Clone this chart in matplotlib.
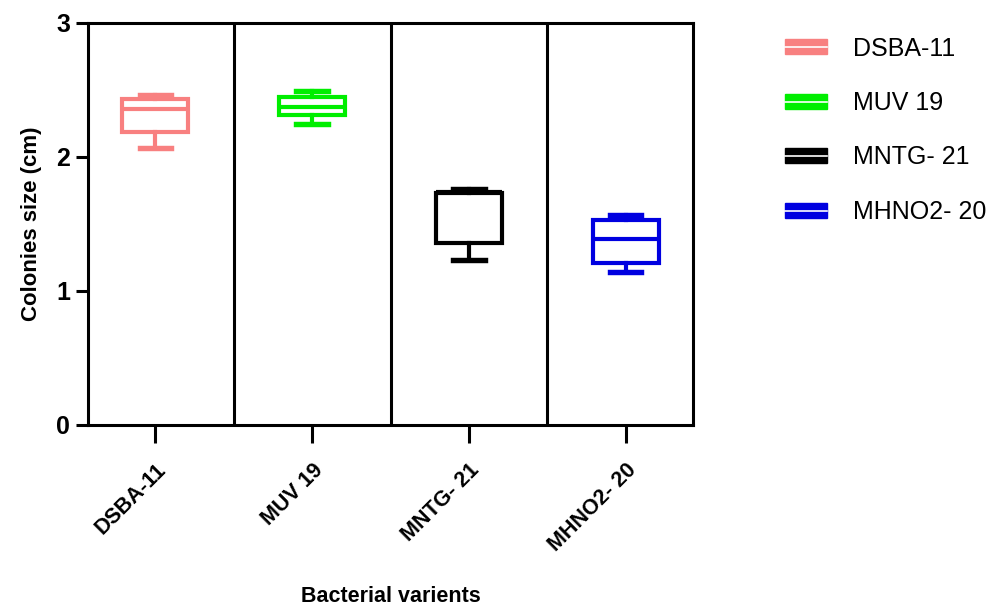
import matplotlib.pyplot as plt
from matplotlib.patches import Patch
from matplotlib.lines import Line2D
from matplotlib.legend_handler import HandlerTuple

# values
variants = ['DSBA-11', 'MUV 19', 'MNTG- 21', 'MHNO2- 20']
colors = ['#f88080', '#00ee00', '#000000', '#0000e0']
whisk_low = [2.07, 2.25, 1.23, 1.14]
q1 = [2.19, 2.31, 1.36, 1.21]
medians = [2.36, 2.37, 1.74, 1.39]
q3 = [2.43, 2.45, 1.73, 1.53]
whisk_high = [2.46, 2.49, 1.76, 1.57]

plt.rcParams['font.family'] = ['Liberation Sans', 'DejaVu Sans']

fig = plt.figure(figsize=(10.07, 6.08), dpi=100)
ax = fig.add_axes([88 / 1007, 1 - 425 / 608, (693 - 88) / 1007, (425 - 23) / 608])

lw = 3.0
for i in range(len(variants)):
    stats = [{
        'whislo': whisk_low[i], 'q1': q1[i], 'med': medians[i],
        'q3': q3[i], 'whishi': whisk_high[i], 'fliers': [],
    }]
    c = colors[i]
    ax.bxp(stats, positions=[i], widths=0.42, showfliers=False,
           patch_artist=True,
           boxprops=dict(facecolor='white', edgecolor=c, linewidth=lw),
           medianprops=dict(color=c, linewidth=lw),
           whiskerprops=dict(color=c, linewidth=lw),
           capprops=dict(color=c, linewidth=lw * 1.3),
           capwidths=0.2)

# separators between groups
for x in [0.5, 1.5, 2.5]:
    ax.axvline(x, color='black', linewidth=2.2)

ax.set_xlim(-0.43, 3.43)
ax.set_ylim(0, 3)
ax.set_yticks([0, 1, 2, 3])
ax.set_xticks(range(len(variants)))
ax.set_xticklabels(variants, rotation=45, ha='right', rotation_mode='anchor',
                   fontsize=15.5, fontweight='bold')
for lab in ax.get_yticklabels():
    lab.set_fontsize(18)
    lab.set_fontweight('bold')

for s in ax.spines.values():
    s.set_linewidth(2.2)
ax.tick_params(axis='y', length=9, width=2.2, pad=4)
ax.tick_params(axis='x', length=13, width=2.2, pad=12)

ax.set_ylabel('Colonies size (cm)', fontsize=16, fontweight='bold', labelpad=10)
ax.set_xlabel('Bacterial varients', fontsize=15.5, fontweight='bold', labelpad=22)

# legend: box symbol with a white line through it
handles = [(Patch(facecolor=c, edgecolor=c),
            Line2D([], [], color='white', linewidth=1.2)) for c in colors]
fig.legend(handles, variants, handler_map={tuple: HandlerTuple(ndivide=1)},
           loc='upper left', bbox_to_anchor=(762 / 1007, 1 - 14 / 608),
           frameon=False, fontsize=18, labelspacing=1.22,
           handlelength=1.7, handleheight=0.55, handletextpad=1.05)

fig.savefig('out.png', dpi=100)
